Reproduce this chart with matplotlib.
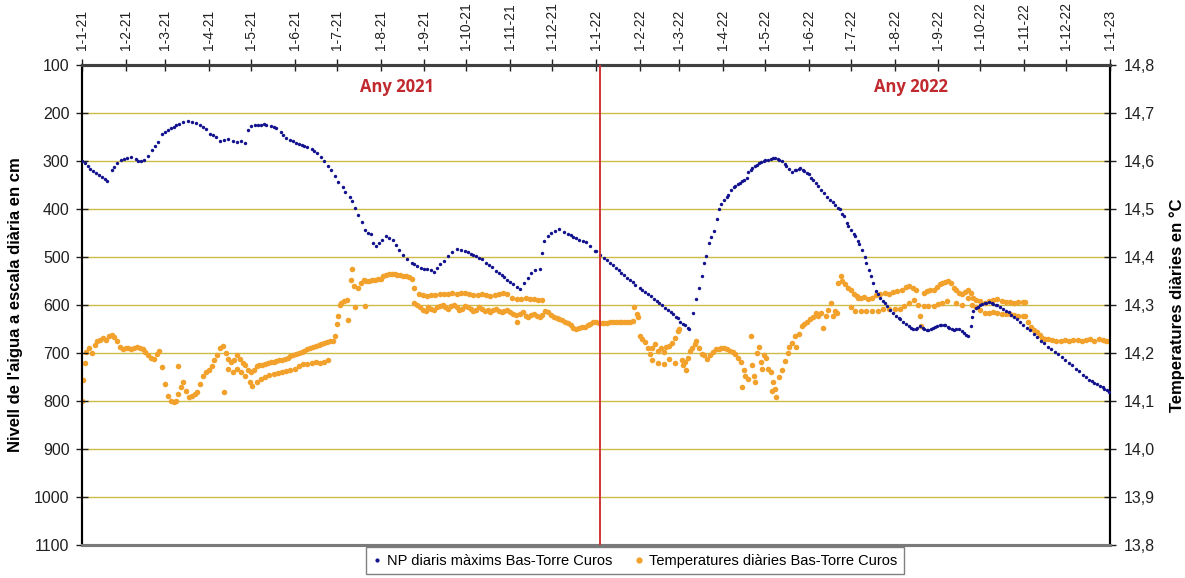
import numpy as np
import matplotlib
matplotlib.use("Agg")
import matplotlib.pyplot as plt
import matplotlib.dates as mdates
from matplotlib.lines import Line2D
from matplotlib.ticker import FixedLocator, FuncFormatter

plt.rcParams['font.family'] = ['Liberation Sans', 'DejaVu Sans']

# ---------------- DATA ----------------
# Water level (cm), daily maxima Bas-Torre Curos. Days counted from 1 Jan of each year.
level_2021_days = [0, 2, 4, 6, 8, 10, 12, 14, 16, 18,
                   21, 23, 25, 28, 30, 32, 35, 38, 40, 42, 44, 47, 50, 52, 54, 57, 59, 61, 63, 65, 67, 69,
                   72, 75, 78, 81, 84, 86, 88, 91, 93, 95, 98, 101, 104, 107, 110, 113, 116,
                   118, 120, 123, 125, 127, 129, 131, 134, 136, 138, 141, 143, 145, 148, 150, 152, 154, 156,
                   158, 160, 163, 165, 167, 170, 172, 175, 177, 180, 182, 185, 187, 190, 192, 194, 196, 199,
                   201, 203, 205, 207, 209, 211, 213, 216, 218, 221, 223, 225, 228, 231, 234, 236, 238, 241,
                   243, 245, 248, 250, 252, 254, 257, 260, 263, 266, 269, 272, 274, 276, 278, 280, 282, 284,
                   287, 289, 291, 294, 296, 298, 300, 302, 304, 306, 309, 311,
                   314, 317, 319, 322, 325,
                   327, 328, 331, 333, 336, 339, 342, 345, 347, 349, 351, 353, 356, 358, 361, 364]
level_2021_cm = [300, 305, 310, 316, 320, 326, 330, 334, 338, 341,
                 318, 312, 305, 298, 296, 294, 292, 296, 300, 300, 298, 290, 277, 268, 260, 243, 240, 236, 232, 229, 225, 222,
                 219, 217, 218, 221, 225, 229, 233, 243, 246, 250, 258, 257, 255, 258, 260, 258, 262,
                 235, 228, 225, 224, 224, 223, 224, 227, 229, 231, 240, 246, 251, 256, 259, 262, 264, 266,
                 268, 270, 276, 280, 284, 292, 301, 310, 319, 331, 343, 355, 364, 375, 384, 398, 412, 428,
                 443, 449, 453, 470, 478, 470, 465, 457, 460, 464, 475, 485, 495, 505, 512, 515, 519, 522,
                 524, 525, 528, 531, 522, 515, 508, 498, 490, 483, 485, 488, 490, 493, 495, 498, 502, 505,
                 512, 516, 520, 529, 533, 538, 542, 547, 552, 557, 562, 566,
                 554, 543, 533, 528, 526,
                 491, 467, 457, 450, 445, 441, 447, 453, 455, 458, 461, 464, 467, 469, 478, 488]

level_2022_days = [0, 3, 6, 8, 10, 12, 14, 16, 18, 20, 22, 24, 26, 28, 31, 33, 35, 37, 39, 41, 43, 45, 47, 49,
                   51, 53, 55, 57, 58, 60, 62, 63, 65, 66,
                   69, 71, 73, 75, 77, 78, 80, 82, 84, 86, 87, 89, 91, 93, 94, 96, 98, 99, 101, 102, 104, 105,
                   107, 108, 110, 111, 113, 114, 116, 117, 119, 120, 122, 124, 126, 127, 129, 130, 132, 134,
                   135, 137, 139, 141, 142, 144, 145, 147, 148, 150, 151, 153, 154, 156, 158, 160, 162, 164,
                   166, 168, 170, 172, 173, 175, 176, 178, 179, 181, 183, 184, 186, 187, 189, 191, 192, 194,
                   195, 197, 199, 200, 202, 204, 205, 207, 209, 211, 213, 215, 216, 218, 220, 222, 224, 225,
                   227, 228, 230, 232, 233, 235, 236, 238, 239, 241, 242, 244, 245, 247, 248, 250, 251, 253,
                   254, 256, 258, 260, 261, 263, 264,
                   266, 267, 268, 270, 271, 273, 274, 276, 277, 279, 281, 282, 284, 285, 287, 289, 291, 293,
                   295, 297, 299, 301, 303, 306, 308, 311, 313, 316, 318, 321, 323, 326, 328, 331, 333, 336,
                   338, 341, 343, 346, 348, 350, 352, 354, 356, 358, 360, 361, 363, 364]
level_2022_cm = [488, 495, 502, 507, 512, 517, 522, 528, 533, 538, 543, 548, 553, 558, 564, 569, 573, 578, 582, 587, 592, 596, 601, 606,
                 610, 615, 619, 624, 628, 635, 640, 642, 647, 649,
                 616, 588, 565, 540, 512, 498, 470, 458, 446, 420, 401, 390, 381, 374, 370, 360, 355, 352, 348, 346, 342, 340,
                 336, 322, 318, 315, 310, 308, 304, 302, 299, 298, 297, 296, 294, 294, 296, 297, 301, 306,
                 310, 316, 322, 319, 318, 316, 315, 318, 320, 325, 328, 336, 340, 346, 353, 360, 367, 374,
                 381, 386, 392, 398, 401, 410, 415, 429, 436, 443, 452, 457, 467, 472, 485, 500, 512, 528,
                 540, 555, 571, 578, 585, 591, 595, 603, 610, 617, 623, 628, 630, 635, 639, 643, 647, 650,
                 649, 648, 643, 648, 650, 652, 653, 650, 648, 645, 643, 642, 641, 641, 642, 645, 647, 651,
                 653, 650, 650, 655, 658, 662, 664,
                 643, 625, 612, 607, 604, 600, 598, 596, 595, 594, 596, 597, 600, 601, 604, 608, 612, 615,
                 620, 625, 630, 636, 641, 648, 653, 660, 666, 674, 680, 688, 692, 698, 703, 709, 714, 721,
                 726, 733, 738, 745, 751, 757, 759, 762, 765, 769, 771, 775, 778, 781]

# Daily temperature (ºC) Bas-Torre Curos
temp_2021_days = [0, 1, 2, 3, 5, 7, 9, 11, 13, 15, 17, 19, 21, 23, 25, 27, 29, 31, 33, 35, 37, 39, 41, 43, 45,
                  47, 49, 51, 53, 55, 57, 59, 61, 63, 65, 67, 68, 68, 70, 72, 74, 76, 78, 80, 82, 84, 86, 88,
                  90, 92, 94, 96, 98, 100, 101,
                  102, 104, 106, 108, 110, 112, 114, 116, 118, 120, 122, 124, 126, 128, 130, 132, 134, 136,
                  138, 140, 142, 144, 146, 148, 150, 152, 154, 156, 158, 160, 162, 164, 166, 168, 170, 172,
                  174, 176, 178,
                  180, 181, 182, 183, 184, 186, 188, 189, 191, 192, 193, 194, 196, 198, 200, 201, 202, 204,
                  206, 208, 210, 212, 214, 216, 218, 220, 222, 224, 226, 228, 230, 232, 234,
                  236, 239, 242, 245, 248, 251, 254, 257, 260, 263, 266, 269, 272, 275, 278, 281, 284, 287,
                  290, 293, 296, 299, 302, 305, 309, 312, 315, 318, 321, 324, 327,
                  329, 331, 333, 335, 337, 339, 341, 343, 345, 347, 349, 351, 353, 355, 357, 359, 361, 363]
temp_2021_c = [14.100, 14.144, 14.180, 14.202, 14.210, 14.200, 14.216, 14.224, 14.228, 14.232, 14.228, 14.235,
               14.238, 14.233, 14.225, 14.212, 14.208, 14.210, 14.210, 14.209, 14.210, 14.212, 14.210, 14.208,
               14.202, 14.195, 14.190, 14.188, 14.198, 14.205, 14.170, 14.135, 14.110, 14.100, 14.097, 14.100,
               14.115, 14.173, 14.130, 14.140, 14.120, 14.108, 14.110, 14.114, 14.119, 14.135, 14.152, 14.160,
               14.165, 14.172, 14.185, 14.195, 14.210, 14.215, 14.119,
               14.200, 14.188, 14.181, 14.185, 14.195, 14.188, 14.180, 14.174, 14.165, 14.160, 14.165, 14.172,
               14.175, 14.174, 14.178, 14.180, 14.181, 14.181, 14.184, 14.185, 14.185, 14.188, 14.190, 14.193,
               14.195, 14.198, 14.200, 14.202, 14.205, 14.208, 14.210, 14.212, 14.215, 14.217, 14.219, 14.220,
               14.222, 14.224, 14.225,
               14.236, 14.260, 14.278, 14.300, 14.305, 14.309, 14.310, 14.268, 14.353, 14.374, 14.340, 14.295,
               14.336, 14.345, 14.353, 14.298, 14.350, 14.350, 14.352, 14.353, 14.355, 14.355, 14.360, 14.362,
               14.364, 14.365, 14.364, 14.362, 14.362, 14.360, 14.360, 14.358, 14.355,
               14.336, 14.322, 14.320, 14.318, 14.320, 14.320, 14.322, 14.322, 14.323, 14.324, 14.322, 14.324,
               14.325, 14.322, 14.320, 14.320, 14.322, 14.320, 14.318, 14.320, 14.322, 14.325, 14.322, 14.315,
               14.312, 14.312, 14.314, 14.313, 14.312, 14.311, 14.310,
               14.288, 14.285, 14.280, 14.275, 14.272, 14.270, 14.268, 14.265, 14.262, 14.258, 14.252, 14.250,
               14.252, 14.254, 14.255, 14.258, 14.260, 14.264]

temp_2021_alt_days = [104, 107, 110, 113, 116, 119, 121, 124, 127, 130, 133, 136, 139, 142, 145, 148, 151, 154,
                      157, 160, 163, 166, 169, 172, 175,
                      236, 238, 240, 242, 244, 246, 248, 250, 252, 254, 256, 258, 260, 262, 264, 266, 268, 270,
                      272, 274, 276, 278, 280, 282, 284, 286, 288, 290, 292, 294, 296, 298, 300, 302, 304, 306,
                      308, 309, 311, 313, 315, 317, 319, 321, 323, 325, 327]
temp_2021_alt_c = [14.167, 14.160, 14.167, 14.160, 14.153, 14.140, 14.132, 14.140, 14.146, 14.150, 14.155, 14.157,
                   14.158, 14.160, 14.162, 14.165, 14.167, 14.172, 14.178, 14.178, 14.180, 14.181, 14.180, 14.181,
                   14.185,
                   14.305, 14.300, 14.295, 14.290, 14.288, 14.295, 14.292, 14.290, 14.295, 14.298, 14.300, 14.296,
                   14.292, 14.298, 14.300, 14.295, 14.290, 14.292, 14.298, 14.295, 14.292, 14.288, 14.290, 14.295,
                   14.292, 14.288, 14.290, 14.286, 14.290, 14.292, 14.288, 14.285, 14.288, 14.290, 14.286, 14.282,
                   14.280, 14.265, 14.282, 14.285, 14.278, 14.275, 14.280, 14.282, 14.278, 14.275, 14.280]

temp_2022_days = [0, 2, 4, 6, 8, 10, 12, 14, 16, 18, 20, 22, 24, 26, 27, 29, 30, 31, 33, 35, 37, 38, 40, 42, 44,
                  46, 48, 50, 52, 54, 56, 58, 59, 61, 63, 65, 67, 68, 70, 71, 73, 75, 77, 79, 81, 83, 85, 87,
                  89, 91, 93, 95, 97, 99, 101, 103, 105, 106, 108, 110, 111, 112, 114, 116, 117, 119, 121,
                  122, 124, 126, 127, 128, 130, 132, 134, 136, 137, 139, 141, 142, 144, 146, 148, 150, 152,
                  154, 156, 158, 160, 161, 163, 165, 167, 168, 170, 171, 172, 174, 175, 177, 179, 181, 183,
                  185, 186, 188, 190, 193, 196, 199, 202, 205, 208, 211, 214, 217, 220, 222, 225, 227, 230,
                  231, 233, 235, 237, 240, 242, 244, 246, 248, 250, 252, 254, 256, 258, 260, 262, 264, 266,
                  268, 270, 273, 276, 279, 282, 285, 288, 291, 294, 297, 300, 303, 305,
                  307, 309, 311, 313, 315, 317, 319, 321, 324, 327, 330, 333, 336, 339, 342, 345, 348, 351,
                  354, 357, 360, 362, 364]
temp_2022_c = [14.264, 14.263, 14.263, 14.262, 14.263, 14.264, 14.264, 14.264, 14.264, 14.265, 14.265, 14.265,
               14.265, 14.266, 14.295, 14.282, 14.274, 14.236, 14.230, 14.222, 14.210, 14.198, 14.210, 14.219,
               14.205, 14.210, 14.202, 14.212, 14.215, 14.220, 14.232, 14.245, 14.250, 14.185, 14.181, 14.190,
               14.205, 14.210, 14.218, 14.226, 14.210, 14.198, 14.195, 14.188, 14.195, 14.202, 14.208, 14.209,
               14.210, 14.210, 14.208, 14.205, 14.202, 14.198, 14.190, 14.181, 14.165, 14.153, 14.145, 14.236,
               14.174, 14.153, 14.200, 14.212, 14.181, 14.195, 14.190, 14.167, 14.160, 14.140, 14.126, 14.108,
               14.150, 14.165, 14.184, 14.200, 14.212, 14.220, 14.236, 14.212, 14.240, 14.257, 14.260, 14.265,
               14.270, 14.275, 14.284, 14.278, 14.284, 14.253, 14.278, 14.290, 14.305, 14.278, 14.288, 14.284,
               14.345, 14.360, 14.350, 14.343, 14.335, 14.332, 14.322, 14.318, 14.315, 14.315, 14.317, 14.312,
               14.315, 14.320, 14.322, 14.325, 14.322, 14.327, 14.330, 14.332, 14.337, 14.339, 14.335, 14.332,
               14.278, 14.257, 14.325, 14.329, 14.332, 14.332, 14.338, 14.343, 14.345, 14.348, 14.350, 14.346,
               14.335, 14.332, 14.325, 14.322, 14.328, 14.332, 14.325, 14.315, 14.310, 14.308, 14.305, 14.308,
               14.310, 14.312, 14.308, 14.306, 14.306, 14.305, 14.306, 14.306, 14.306,
               14.264, 14.255, 14.248, 14.243, 14.238, 14.232, 14.230, 14.229, 14.227, 14.225, 14.226, 14.228,
               14.226, 14.228, 14.228, 14.226, 14.227, 14.229, 14.226, 14.229, 14.227, 14.226, 14.224]

temp_2022_alt_days = [40, 44, 48, 52, 56, 62, 64, 104, 113, 118, 125,
                      181, 184, 188, 192, 196, 200, 204, 208, 212, 216, 219, 222, 226, 229, 233, 236, 240, 243,
                      246, 249, 256, 260, 264, 267, 270, 273, 276, 279, 282, 285, 288, 291, 294, 297, 300, 303,
                      305]
temp_2022_alt_c = [14.185, 14.180, 14.178, 14.188, 14.180, 14.175, 14.165, 14.130, 14.140, 14.167, 14.120,
                   14.295, 14.288, 14.288, 14.288, 14.288, 14.288, 14.291, 14.291, 14.291, 14.291, 14.298,
                   14.305, 14.310, 14.300, 14.298, 14.298, 14.298, 14.302, 14.305, 14.308, 14.305, 14.300,
                   14.315, 14.300, 14.295, 14.290, 14.284, 14.284, 14.286, 14.284, 14.282, 14.281, 14.281,
                   14.280, 14.278, 14.278, 14.278]

series_labels = ["NP diaris màxims Bas-Torre Curos", "Temperatures diàries Bas-Torre Curos"]
year_labels = ["Any 2021", "Any 2022"]
left_ticks = [100, 200, 300, 400, 500, 600, 700, 800, 900, 1000, 1100]
right_ticks = [13.8, 13.9, 14.0, 14.1, 14.2, 14.3, 14.4, 14.5, 14.6, 14.7, 14.8]

# ---------------- PLOT ----------------
def to_dates(year, days):
    return np.datetime64(f"{year}-01-01") + np.array(days, dtype="timedelta64[D]")

blue = '#12128E'
orange = '#F2A22C'
grid_c = '#CDBB48'

fig = plt.figure(figsize=(11.85, 5.78), dpi=100)
ax_t = fig.add_axes([0.0692, 0.0571, 0.8675, 0.8304])   # temperature (right scale)
ax_l = ax_t.twinx()                                        # level (left scale), drawn on top

# swap sides
ax_t.yaxis.tick_right()
ax_t.yaxis.set_label_position('right')
ax_l.yaxis.tick_left()
ax_l.yaxis.set_label_position('left')

x0 = np.datetime64('2021-01-01')
x1 = np.datetime64('2023-01-01')
ax_t.set_xlim(x0, x1)
ax_t.set_ylim(13.8, 14.8)
ax_l.set_ylim(1100, 100)

for y in left_ticks[1:-1]:
    ax_t.axhline(14.9 - y / 1000.0, color=grid_c, lw=1.0, zorder=0)

ms_o = 16
ax_t.scatter(to_dates(2021, temp_2021_days), temp_2021_c, s=ms_o, color=orange, lw=0, zorder=3)
ax_t.scatter(to_dates(2021, temp_2021_alt_days), temp_2021_alt_c, s=ms_o, color=orange, lw=0, zorder=3)
ax_t.scatter(to_dates(2022, temp_2022_days), temp_2022_c, s=ms_o, color=orange, lw=0, zorder=3)
ax_t.scatter(to_dates(2022, temp_2022_alt_days), temp_2022_alt_c, s=ms_o, color=orange, lw=0, zorder=3)

ms_b = 6
ax_l.scatter(to_dates(2021, level_2021_days), level_2021_cm, s=ms_b, color=blue, lw=0, zorder=4)
ax_l.scatter(to_dates(2022, level_2022_days), level_2022_cm, s=ms_b, color=blue, lw=0, zorder=4)

# year separator
ax_l.axvline(np.datetime64('2022-01-04'), color='#D03535', lw=1.4, zorder=5)

# x ticks on top, month starts
months = [np.datetime64(f"{2021 + (i // 12)}-{(i % 12) + 1:02d}-01") for i in range(25)]
ax_t.xaxis.set_major_locator(FixedLocator(mdates.date2num(months)))
def fmt_date(v, pos):
    d = mdates.num2date(v)
    return f"{d.day}-{d.month}-{d.strftime('%y')}"
ax_t.xaxis.set_major_formatter(FuncFormatter(fmt_date))
ax_t.xaxis.tick_top()
ax_t.tick_params(axis='x', which='major', direction='inout', length=8, width=1, labelsize=10,
                 labelrotation=90, pad=7, colors='#202020')
ax_l.tick_params(axis='x', which='both', top=False, bottom=False, labeltop=False, labelbottom=False)

ax_t.set_yticks(right_ticks)
ax_t.set_yticklabels([f"{v:.1f}".replace('.', ',') for v in right_ticks])
ax_t.tick_params(axis='y', direction='inout', length=8, width=1, labelsize=11.5, pad=6, colors='#202020')
ax_l.set_yticks(left_ticks)
ax_l.set_yticklabels([str(v) for v in left_ticks])
ax_l.tick_params(axis='y', direction='inout', length=8, width=1, labelsize=11.5, pad=5, colors='#202020')

for a in (ax_t, ax_l):
    a.spines['top'].set_color('#404040')
    a.spines['top'].set_linewidth(2.2)
    a.spines['bottom'].set_color('#7A7A7A')
    a.spines['bottom'].set_linewidth(2.2)
    a.spines['left'].set_color('black')
    a.spines['left'].set_linewidth(1.5)
    a.spines['right'].set_color('black')
    a.spines['right'].set_linewidth(1.5)

ax_l.set_ylabel("Nivell de l'aigua a escala diària en cm", fontsize=12, fontweight='bold', labelpad=8)
ax_t.set_ylabel("Temperatures diàries en °C", fontsize=12, fontweight='bold', labelpad=10, rotation=90)

fig.text(397 / 1185, 1 - 87 / 578, year_labels[0], color='#C02A2E', fontsize=12, fontweight='bold',
         ha='center', va='center', family=['Open Sans', 'DejaVu Sans'])
fig.text(911 / 1185, 1 - 87 / 578, year_labels[1], color='#C02A2E', fontsize=12, fontweight='bold',
         ha='center', va='center', family=['Open Sans', 'DejaVu Sans'])

handles = [Line2D([], [], ls='none', marker='o', markersize=2, color=blue),
           Line2D([], [], ls='none', marker='o', markersize=3.5, color=orange)]
leg = fig.legend(handles, series_labels, loc='upper center', bbox_to_anchor=(0.536, 0.053), ncol=2,
                 frameon=True, fancybox=False, edgecolor='#606060', fontsize=10.5, handlelength=0.6,
                 handletextpad=0.4, columnspacing=1.5, borderpad=0.45, borderaxespad=0)
leg.get_frame().set_linewidth(1.0)

fig.savefig('out.png', dpi=100, facecolor='white')
